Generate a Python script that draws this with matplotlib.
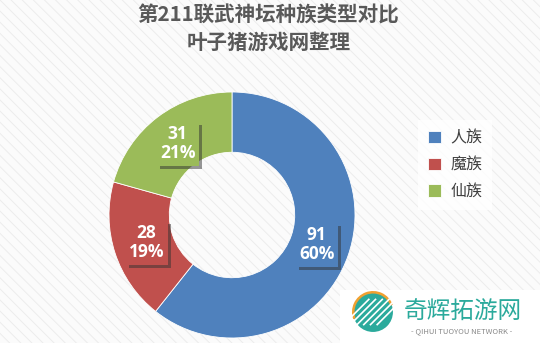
import matplotlib
matplotlib.use("Agg")
import matplotlib.pyplot as plt
import matplotlib.patheffects as pe
from matplotlib.patches import Rectangle, Circle, Wedge
import numpy as np

plt.rcParams['font.family'] = ['Noto Sans CJK SC', 'DejaVu Sans']
plt.rcParams['hatch.linewidth'] = 0.7

# ---- data ----
title_lines = ["第211联武神坛种族类型对比", "叶子猪游戏网整理"]
categories = ["人族", "魔族", "仙族"]
values = [91, 28, 31]
pct_labels = ["60%", "19%", "21%"]
colors = ["#4F81BD", "#C0504D", "#9BBB59"]

W, H = 540, 343
fig = plt.figure(figsize=(W / 100, H / 100), dpi=100)
fig.patch.set_facecolor('white')

# striped background
bg = Rectangle((0, 0), 1, 1, transform=fig.transFigure, facecolor='#fbfbfb',
               edgecolor='#ececec', hatch='\\\\\\', linewidth=0, zorder=-10)
fig.patches.append(bg)

# title
fig.text(0.497, 1 - 15 / H, title_lines[0], ha='center', va='center',
         fontsize=14.8, fontweight='bold', color='#595959')
fig.text(0.497, 1 - 42 / H, title_lines[1], ha='center', va='center',
         fontsize=14.8, fontweight='bold', color='#595959')

# donut axes: center (232,215) px, radius 123 px
cx, cy, r = 232, 215, 123
ax = fig.add_axes([(cx - r) / W, (H - cy - r) / H, 2 * r / W, 2 * r / H])
ax.set_facecolor('none')
wedges, _ = ax.pie(values, colors=colors, startangle=90, counterclock=False,
                   radius=1.0, wedgeprops=dict(width=0.49, edgecolor='white', linewidth=0.6))
ax.set_aspect('equal')
ax.set_xlim(-1, 1)
ax.set_ylim(-1, 1)
ax.axis('off')

for w, v, p, c in zip(wedges, values, pct_labels, colors):
    ang = np.deg2rad((w.theta1 + w.theta2) / 2)
    d = 0.73
    t = ax.text(d * np.cos(ang), d * np.sin(ang), f"{v}\n{p}", ha='center', va='center',
                fontsize=12.5, fontweight='bold', color='white', family=['Open Sans', 'DejaVu Sans'],
                linespacing=1.1,
                bbox=dict(boxstyle='square,pad=0.2', facecolor=c, edgecolor='none'))
    t.get_bbox_patch().set_path_effects([
        pe.SimplePatchShadow(offset=(2.5, -2.5), shadow_rgbFace='#333333', alpha=0.5),
        pe.Normal()])

# legend
leg = fig.legend(wedges, categories, loc='center', bbox_to_anchor=(455 / W, 1 - 165 / H),
                 frameon=True, fancybox=False, fontsize=11.5, handlelength=0.8, handleheight=0.8,
                 handletextpad=0.6, labelspacing=0.6, borderpad=0.6)
leg.get_frame().set_facecolor('white')
leg.get_frame().set_edgecolor('none')
for t in leg.get_texts():
    t.set_color('#404040')

# watermark
wm = Rectangle((340 / W, 0), 200 / W, 53 / H, transform=fig.transFigure,
               facecolor='white', edgecolor='none', zorder=5)
fig.patches.append(wm)
lax = fig.add_axes([352 / W, 10 / H, 42 / W, 42 / H], zorder=6)
lax.set_xlim(-1, 1); lax.set_ylim(-1, 1); lax.set_aspect('equal'); lax.axis('off')
lax.add_patch(Circle((0, 0), 0.95, facecolor='#2BAA9C', edgecolor='none'))
lax.add_patch(Wedge((0, 0), 1.0, 20, 200, width=0.12, facecolor='#F0A030', edgecolor='none'))
for k in np.linspace(-0.8, 0.8, 6):
    lax.plot([k - 0.6, k + 0.6], [-0.6, 0.6], color='white', lw=1.2)
lax.add_patch(Circle((0, 0), 1.3, facecolor='none', edgecolor='white', lw=6))
fig.text(463 / W, 1 - 312 / H, "奇辉拓游网", ha='center', va='center', fontsize=17,
         color='#2BAA9C', fontweight='medium', zorder=7)
fig.text(462 / W, 1 - 331 / H, "- QIHUI TUOYOU NETWORK -", ha='center', va='center',
         fontsize=5.5, color='#888888', zorder=7)

fig.savefig('out.png', dpi=100)
